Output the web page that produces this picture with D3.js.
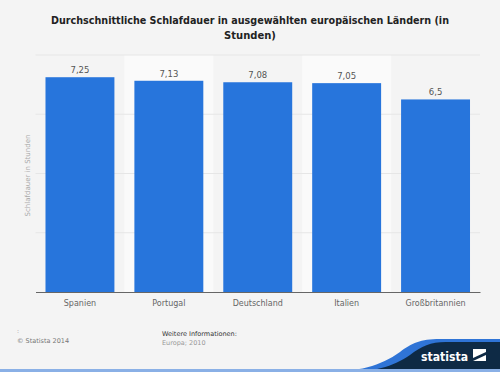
<!DOCTYPE html>
<html>
<head>
    <meta charset="utf-8">
    <title>Schlafdauer</title>
    <style>
        body { margin: 0; background: #f4f4f4; }
        text { font-family: "DejaVu Sans", sans-serif; }
    </style>
    <script src="https://d3js.org/d3.v7.min.js"></script>
</head>
<body>
    <svg width="500" height="372"></svg>
    <script>
        const laender = ["Spanien", "Portugal", "Deutschland", "Italien", "Großbritannien"];
        const stunden = [7.25, 7.13, 7.08, 7.05, 6.5];
        const yTicks = [0, 2, 4, 6, 8];

        const svg = d3.select("svg");
        const W = 500, H = 372;
        const m = { left: 35.5, right: 20, top: 55, bottom: 80 };

        svg.append("rect").attr("width", W).attr("height", H).attr("fill", "#f4f4f4");

        const x = d3.scaleBand()
            .domain(laender)
            .range([m.left, W - m.right])
            .paddingInner(20 / 89)
            .paddingOuter(10 / 89);

        const y = d3.scaleLinear()
            .domain([0, 8])
            .range([H - m.bottom, m.top]);

        // lighter bands behind every second category
        const step = x.step();
        svg.selectAll(".band")
            .data(laender.filter((d, i) => i % 2 == 1))
            .enter().append("rect")
            .attr("x", d => x(d) - (step - x.bandwidth()) / 2)
            .attr("y", y(8))
            .attr("width", step)
            .attr("height", y(0) - y(8))
            .attr("fill", "#fafafa");

        // gridlines
        svg.selectAll(".grid")
            .data(yTicks.slice(1))
            .enter().append("line")
            .attr("x1", m.left).attr("x2", W - m.right)
            .attr("y1", d => y(d)).attr("y2", d => y(d))
            .attr("stroke", "#e6e6e6")
            .attr("stroke-width", 1);

        svg.selectAll(".bar")
            .data(stunden)
            .enter().append("rect")
            .attr("x", (d, i) => x(laender[i]))
            .attr("y", d => y(d))
            .attr("width", x.bandwidth())
            .attr("height", d => y(0) - y(d))
            .attr("fill", "#2775dc");

        svg.selectAll(".val")
            .data(stunden)
            .enter().append("text")
            .attr("x", (d, i) => x(laender[i]) + x.bandwidth() / 2)
            .attr("y", d => y(d) - 4)
            .attr("text-anchor", "middle")
            .attr("font-size", 8.5)
            .attr("fill", "#555")
            .text(d => String(d).replace(".", ","));

        // x axis
        const xAxis = svg.append("g")
            .attr("transform", `translate(0,${y(0)})`)
            .call(d3.axisBottom(x).tickSize(0).tickPadding(8));
        xAxis.select(".domain").attr("stroke", "#666").attr("stroke-width", 1.2);
        xAxis.selectAll("text")
            .attr("font-family", "DejaVu Sans, sans-serif")
            .attr("font-size", 8)
            .attr("fill", "#666");

        svg.append("text")
            .attr("transform", `translate(30,${(y(0) + y(8)) / 2 + 2}) rotate(-90)`)
            .attr("text-anchor", "middle")
            .attr("font-size", 7)
            .attr("fill", "#aaa")
            .text("Schlafdauer in Stunden");

        // title
        const title = svg.append("text")
            .attr("text-anchor", "middle")
            .attr("font-weight", "bold")
            .attr("font-size", 10)
            .attr("fill", "#222");
        title.append("tspan").attr("x", 250).attr("y", 24)
            .attr("textLength", 398).attr("lengthAdjust", "spacingAndGlyphs")
            .text("Durchschnittliche Schlafdauer in ausgewählten europäischen Ländern (in");
        title.append("tspan").attr("x", 250).attr("y", 39)
            .text("Stunden)");

        // footer
        svg.append("text").attr("x", 17).attr("y", 333)
            .attr("font-size", 6).attr("fill", "#999").text(":");
        svg.append("text").attr("x", 17).attr("y", 343)
            .attr("font-size", 6.5).attr("fill", "#777").text("© Statista 2014");
        svg.append("text").attr("x", 162).attr("y", 336)
            .attr("font-size", 6.5).attr("fill", "#333").text("Weitere Informationen:");
        svg.append("text").attr("x", 162).attr("y", 345)
            .attr("font-size", 6.5).attr("fill", "#999").text("Europa; 2010");

        // logo
        svg.append("path")
            .attr("d", "M320,372 C360,372 380,366 400,352 C412,343 420,339 440,339 L500,339 L500,372 Z")
            .attr("fill", "#2f74d6");
        svg.append("path")
            .attr("d", "M340,372 C375,372 392,367 410,355 C422,346 430,342 446,342 L500,342 L500,372 Z")
            .attr("fill", "#0e2a45");
        svg.append("text").attr("x", 421).attr("y", 361)
            .attr("font-size", 13).attr("font-weight", "bold").attr("fill", "#fff")
            .attr("textLength", 47).attr("lengthAdjust", "spacingAndGlyphs")
            .text("statista");
        svg.append("rect").attr("x", 473).attr("y", 349).attr("width", 13).attr("height", 12).attr("fill", "#fff");
        svg.append("path").attr("d", "M473,358 L486,352 L486,355 L473,361 Z").attr("fill", "#0e2a45");
        svg.append("rect").attr("x", 0).attr("y", 369).attr("width", W).attr("height", 3).attr("fill", "#8ab0e6");
    </script>
</body>
</html>
